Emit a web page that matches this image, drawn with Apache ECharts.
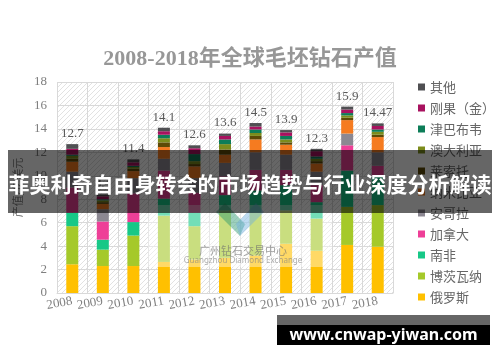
<!DOCTYPE html>
<html><head><meta charset="utf-8">
<script src="https://cdn.jsdelivr.net/npm/echarts@6/dist/echarts.min.js"></script>
<style>html,body{margin:0;padding:0;background:#fff}#c{width:500px;height:362px}</style>
</head><body><div id="c"></div>
<script>
// ---- data ----
const years = ['2008','2009','2010','2011','2012','2013','2014','2015','2016','2017','2018'];
const totalLabels = ['12.7','8.4','11.4','14.1','12.6','13.6','14.5','13.9','12.3','15.9','14.47'];
const russia    = [2.45, 2.30, 2.30, 2.65, 2.85, 3.00, 3.20, 4.20, 3.60, 4.10, 3.95];
const botswana  = [3.25, 1.40, 2.60, 3.95, 2.85, 4.05, 3.65, 2.85, 2.75, 3.25, 3.55];
const southAfrica=[1.15, 0.85, 1.15, 1.45, 1.15, 1.30, 1.90, 2.15, 1.40, 3.10, 2.45];
const canada    = [2.15, 1.55, 2.45, 2.40, 1.70, 1.60, 1.75, 1.30, 1.45, 2.15, 0.90];
const angola    = [1.35, 1.05, 1.30, 1.00, 1.25, 1.15, 1.50, 1.30, 1.15, 1.00, 1.15];
const namibia   = [0.85, 0.45, 0.60, 1.00, 1.00, 0.70, 1.10, 0.85, 0.70, 1.15, 1.30];
const lesotho   = [0.25, 0.15, 0.20, 0.40, 0.20, 0.45, 0.30, 0.20, 0.20, 0.20, 0.20];
const australia = [0.25, 0.15, 0.15, 0.35, 0.25, 0.45, 0.25, 0.25, 0.20, 0.20, 0.25];
const zimbabwe  = [0.10, 0.10, 0.10, 0.30, 0.60, 0.40, 0.30, 0.30, 0.20, 0.20, 0.20];
const drc       = [0.50, 0.25, 0.30, 0.30, 0.50, 0.30, 0.25, 0.30, 0.45, 0.30, 0.30];
const others    = [0.40, 0.15, 0.25, 0.30, 0.25, 0.20, 0.30, 0.20, 0.20, 0.25, 0.22];
const yMin = 0, yMax = 18, yStep = 2;

// stacking order, bottom to top
const seriesNames = ['俄罗斯','博茨瓦纳','南非','加拿大','安哥拉','纳米比亚','莱索托','澳大利亚','津巴布韦','刚果（金）','其他'];
const seriesData  = [russia, botswana, southAfrica, canada, angola, namibia, lesotho, australia, zimbabwe, drc, others];
const seriesColors= ['#ffc000','#a5c92a','#17c887','#ee3f97','#8c8892','#f57b20','#5e4a06','#7c8c1c','#0d7d58','#a8125f','#4f4f52'];

// ---- hatch pattern for plot background ----
const pc = document.createElement('canvas');
pc.width = 5; pc.height = 5;
const g = pc.getContext('2d');
g.strokeStyle = '#e2e2e2'; g.lineWidth = 1;
g.beginPath();
g.moveTo(0,5); g.lineTo(5,0);
g.moveTo(-1,1); g.lineTo(1,-1);
g.moveTo(4,6); g.lineTo(6,4);
g.stroke();

const serif = '"Liberation Serif", "Noto Sans CJK SC", serif';
const series = seriesNames.map((n, i) => ({
  name: n, type: 'bar', stack: 'total', barWidth: 12,
  data: seriesData[i],
  itemStyle: { color: seriesColors[i] },
  label: i === seriesNames.length - 1 ? {
    show: true, position: 'top', distance: 4,
    formatter: p => totalLabels[p.dataIndex],
    fontFamily: serif, fontSize: 13, color: '#595959'
  } : { show: false }
}));

const chart = echarts.init(document.getElementById('c'), null, { renderer: 'canvas' });
chart.setOption({
  animation: false,
  backgroundColor: '#fff',
  title: {
    text: '2008-2018年全球毛坯钻石产值', left: 'center', top: 43,
    textStyle: { fontFamily: serif, fontSize: 22, fontWeight: 'bold', color: '#979797' }
  },
  legend: {
    orient: 'vertical', left: 413, top: 75,
    itemWidth: 7, itemHeight: 7, itemGap: 7, icon: 'rect',
    data: seriesNames.slice().reverse(),
    textStyle: { fontFamily: '"Noto Sans CJK SC", sans-serif', fontSize: 13, color: '#666666', lineHeight: 14 }
  },
  grid: {
    left: 57, right: 107, top: 82, bottom: 69, show: true, borderWidth: 0,
    backgroundColor: { image: pc, repeat: 'repeat' }
  },
  xAxis: {
    type: 'category', data: years,
    axisLine: { show: true, lineStyle: { color: '#d9d9d9' } },
    axisTick: { show: false },
    splitLine: { show: true, interval: 0, lineStyle: { color: '#d9d9d9' } },
    axisLabel: { interval: 0, rotate: 10, margin: 8, fontFamily: serif, fontSize: 13, color: '#7f7f7f' }
  },
  yAxis: {
    type: 'value', min: yMin, max: yMax, interval: yStep, splitNumber: 9,
    name: '产值/亿美元', nameLocation: 'middle', nameGap: 26,
    nameTextStyle: { fontFamily: '"Noto Sans CJK SC", sans-serif', fontSize: 11, color: '#7f7f7f' },
    axisLine: { show: false }, axisTick: { show: false },
    splitLine: { lineStyle: { color: '#d9d9d9' } },
    axisLabel: { margin: 10, fontFamily: serif, fontSize: 13, color: '#7f7f7f', formatter: v => String(v) }
  },
  series: series,
  graphic: [
    { type: 'rect', z: 100, shape: { x: 148, y: 205, width: 184, height: 62 }, style: { fill: 'rgba(255,255,255,0.4)' } },
    { type: 'polygon', z: 101, shape: { points: [[216,212],[225,203],[245,224],[240,236]] }, style: { fill: 'rgba(40,150,110,0.45)' } },
    { type: 'polygon', z: 101, shape: { points: [[240,236],[236,224],[256,203],[264,212]] }, style: { fill: 'rgba(110,175,225,0.45)' } },
    { type: 'text', z: 101, style: { text: '广州钻石交易中心', x: 243, y: 251, align: 'center', verticalAlign: 'middle',
        font: '11px "Noto Sans CJK SC"', fill: 'rgba(110,110,110,0.65)' } },
    { type: 'text', z: 101, style: { text: 'Guangzhou Diamond Exchange', x: 243, y: 260.5, align: 'center', verticalAlign: 'middle',
        font: '8px "Noto Sans"', fill: 'rgba(130,130,130,0.65)' } },
    { type: 'rect', z: 200, shape: { x: 8, y: 150, width: 484, height: 63 }, style: { fill: 'rgba(0,0,0,0.6)' } },
    { type: 'text', z: 201, style: { text: '菲奥利奇自由身转会的市场趋势与行业深度分析解读', x: 250, y: 184, align: 'center', verticalAlign: 'middle',
        font: 'bold 21px "Noto Sans CJK SC"', fill: '#ffffff' } },
    { type: 'rect', z: 200, shape: { x: 277, y: 315, width: 213, height: 10 }, style: { fill: 'rgba(0,0,0,0.6)' } },
    { type: 'rect', z: 200, shape: { x: 277, y: 325, width: 213, height: 20 }, style: { fill: '#000' } },
    { type: 'text', z: 201, style: { text: 'www.cnwap-yiwan.com', x: 383.5, y: 335.5, align: 'center', verticalAlign: 'middle',
        font: 'bold 16px "Noto Sans"', fill: '#ffffff' } }
  ]
});
</script>
</body></html>
